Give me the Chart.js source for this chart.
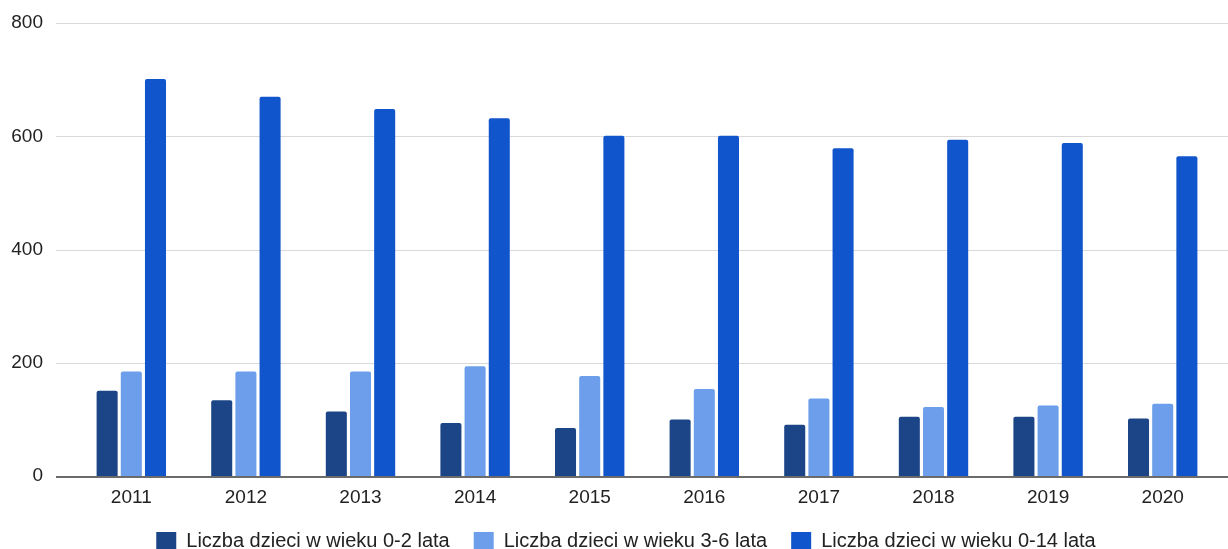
<!DOCTYPE html>
<html>
<head>
<meta charset="utf-8">
<script src="https://cdn.jsdelivr.net/npm/chart.js@4"></script>
<style>
html, body { margin: 0; padding: 0; background: #fff; }
#wrap { width: 1228px; height: 549px; position: relative; }
</style>
</head>
<body>
<div id="wrap"><canvas id="chart"></canvas></div>
<script>
// data
const years = ['2011', '2012', '2013', '2014', '2015', '2016', '2017', '2018', '2019', '2020'];
const age02 = [151, 134, 114, 94, 85, 100, 91, 105, 105, 102];
const age36 = [185, 185, 185, 194, 177, 154, 137, 122, 125, 128];
const age014 = [701, 670, 648, 632, 601, 601, 579, 594, 588, 565];
const yTicks = [0, 200, 400, 600, 800];

const fontFamily = '"Liberation Sans", Arial, sans-serif';
const tickFont = { family: fontFamily, size: 19 };
const legendFont = { family: fontFamily, size: 20 };

// layout tweaks + gridlines that run a bit wider than the plot area, like Google Sheets
const sheetsLook = {
  id: 'sheetsLook',
  beforeLayout(chart) {
    // legend only reserves a thin strip at the bottom
    const lg = chart.legend;
    if (lg && !lg._tight) {
      const fit = lg.fit.bind(lg);
      lg.fit = function () { fit(); this.height = 30; };
      lg._tight = true;
    }
  },
  afterLayout(chart) {
    // then let it overlap the x labels' spare room so nothing gets clipped
    const lg = chart.legend;
    lg.left += 16;
    lg.right += 16;
    lg.top = chart.height - 42;
    lg.bottom = chart.height;
    lg.height = 42;
  },
  beforeDatasetsDraw(chart) {
    const ctx = chart.ctx;
    const y = chart.scales.y;
    ctx.save();
    y.ticks.forEach(t => {
      if (t.value === 0) return;
      const py = Math.round(y.getPixelForValue(t.value)) + 0.5;
      ctx.beginPath();
      ctx.strokeStyle = '#d9d9d9';
      ctx.lineWidth = 1;
      ctx.moveTo(chart.chartArea.left - 18, py);
      ctx.lineTo(chart.width, py);
      ctx.stroke();
    });
    ctx.restore();
  },
  afterDatasetsDraw(chart) {
    const ctx = chart.ctx;
    const py = Math.round(chart.scales.y.getPixelForValue(0)) + 1;
    ctx.save();
    ctx.beginPath();
    ctx.strokeStyle = '#6b6b6b';
    ctx.lineWidth = 2;
    ctx.moveTo(chart.chartArea.left - 18, py);
    ctx.lineTo(chart.width, py);
    ctx.stroke();
    ctx.restore();
  }
};

const barStyle = {
  categoryPercentage: 0.633,
  barPercentage: 0.87,
  borderRadius: 2,
  borderSkipped: 'start'
};

new Chart(document.getElementById('chart'), {
  type: 'bar',
  data: {
    labels: years,
    datasets: [
      { label: 'Liczba dzieci w wieku 0-2 lata', data: age02, backgroundColor: '#1c4587', ...barStyle },
      { label: 'Liczba dzieci w wieku 3-6 lata', data: age36, backgroundColor: '#6d9eeb', ...barStyle },
      { label: 'Liczba dzieci w wieku 0-14 lata', data: age014, backgroundColor: '#1155cc', ...barStyle }
    ]
  },
  options: {
    responsive: true,
    maintainAspectRatio: false,
    animation: false,
    layout: { padding: { top: 23, right: 8, left: 0, bottom: 0 } },
    plugins: {
      tooltip: { enabled: false },
      legend: {
        position: 'bottom',
        labels: {
          font: legendFont,
          color: '#222',
          boxWidth: 20,
          boxHeight: 18,
          padding: 24
        }
      }
    },
    scales: {
      x: {
        grid: { display: false, drawTicks: false },
        border: { display: false },
        ticks: { font: tickFont, color: '#222', padding: 10, maxRotation: 0 }
      },
      y: {
        min: 0,
        max: 800,
        afterBuildTicks: scale => { scale.ticks = yTicks.map(v => ({ value: v })); },
        afterFit: scale => {
          scale.width = 74;
          scale.paddingTop = 0;
          scale.paddingBottom = 0;
        },
        grid: { display: false, drawTicks: false },
        border: { display: false },
        ticks: { font: tickFont, color: '#222', padding: 31 }
      }
    }
  },
  plugins: [sheetsLook]
});
</script>
</body>
</html>
